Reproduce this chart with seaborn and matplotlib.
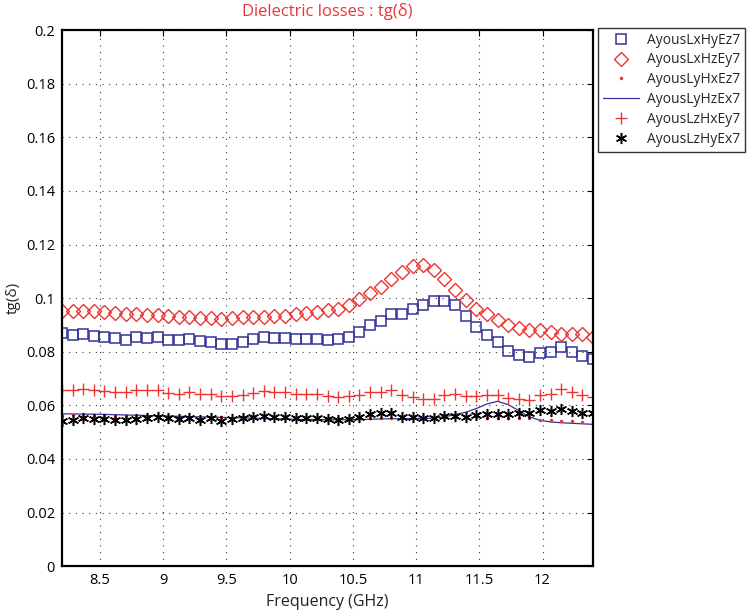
import numpy as np
import pandas as pd
import matplotlib
matplotlib.use("Agg")
import matplotlib.pyplot as plt
import seaborn as sns

# ---------------- data ----------------
freq = [8.200, 8.284, 8.368, 8.452, 8.536, 8.620, 8.704, 8.788, 8.872, 8.956,
        9.040, 9.124, 9.208, 9.292, 9.376, 9.460, 9.544, 9.628, 9.712, 9.796,
        9.880, 9.964, 10.048, 10.132, 10.216, 10.300, 10.384, 10.468, 10.552, 10.636,
        10.720, 10.804, 10.888, 10.972, 11.056, 11.140, 11.224, 11.308, 11.392, 11.476,
        11.560, 11.644, 11.728, 11.812, 11.896, 11.980, 12.064, 12.148, 12.232, 12.316,
        12.400]

lxhyez7 = [0.0871, 0.0861, 0.0866, 0.0860, 0.0855, 0.0850, 0.0845, 0.0855, 0.0852, 0.0855,
           0.0843, 0.0845, 0.0846, 0.0841, 0.0838, 0.0828, 0.0830, 0.0836, 0.0848, 0.0856,
           0.0853, 0.0852, 0.0846, 0.0846, 0.0847, 0.0845, 0.0846, 0.0856, 0.0873, 0.0898,
           0.0915, 0.0940, 0.0940, 0.0958, 0.0973, 0.0989, 0.0991, 0.0974, 0.0933, 0.0891,
           0.0863, 0.0835, 0.0804, 0.0789, 0.0779, 0.0794, 0.0799, 0.0816, 0.0799, 0.0785,
           0.0774]

lxhzey7 = [0.0951, 0.0951, 0.0952, 0.0951, 0.0947, 0.0943, 0.0940, 0.0939, 0.0938, 0.0937,
           0.0933, 0.0930, 0.0930, 0.0927, 0.0927, 0.0924, 0.0925, 0.0928, 0.0930, 0.0930,
           0.0932, 0.0935, 0.0939, 0.0943, 0.0950, 0.0954, 0.0961, 0.0976, 0.0995, 0.1020,
           0.1042, 0.1072, 0.1097, 0.1121, 0.1123, 0.1104, 0.1071, 0.1032, 0.0993, 0.0961,
           0.0940, 0.0918, 0.0899, 0.0887, 0.0881, 0.0881, 0.0872, 0.0868, 0.0866, 0.0866,
           0.0856]

lyhxez7 = [0.0565, 0.0563, 0.0562, 0.0560, 0.0559, 0.0558, 0.0557, 0.0557, 0.0556, 0.0556,
           0.0555, 0.0555, 0.0554, 0.0555, 0.0554, 0.0555, 0.0554, 0.0555, 0.0555, 0.0554,
           0.0555, 0.0553, 0.0553, 0.0553, 0.0553, 0.0552, 0.0552, 0.0553, 0.0553, 0.0553,
           0.0553, 0.0553, 0.0553, 0.0553, 0.0552, 0.0553, 0.0554, 0.0555, 0.0555, 0.0555,
           0.0554, 0.0554, 0.0553, 0.0553, 0.0551, 0.0545, 0.0545, 0.0542, 0.0542, 0.0539,
           0.0536]

lyhzex7 = [0.0568, 0.0568, 0.0567, 0.0567, 0.0566, 0.0565, 0.0564, 0.0563, 0.0562, 0.0561,
           0.0560, 0.0559, 0.0558, 0.0557, 0.0556, 0.0555, 0.0554, 0.0553, 0.0552, 0.0551,
           0.0550, 0.0549, 0.0548, 0.0547, 0.0547, 0.0546, 0.0546, 0.0546, 0.0547, 0.0548,
           0.0549, 0.0550, 0.0550, 0.0551, 0.0551, 0.0552, 0.0557, 0.0565, 0.0574, 0.0588,
           0.0605, 0.0615, 0.0603, 0.0580, 0.0557, 0.0544, 0.0538, 0.0535, 0.0533, 0.0531,
           0.0529]

lzhxey7 = [0.0657, 0.0658, 0.0662, 0.0658, 0.0654, 0.0650, 0.0648, 0.0656, 0.0656, 0.0657,
           0.0647, 0.0644, 0.0648, 0.0644, 0.0643, 0.0636, 0.0634, 0.0638, 0.0647, 0.0654,
           0.0650, 0.0648, 0.0641, 0.0642, 0.0641, 0.0636, 0.0632, 0.0636, 0.0638, 0.0648,
           0.0648, 0.0657, 0.0638, 0.0632, 0.0622, 0.0622, 0.0638, 0.0641, 0.0634, 0.0634,
           0.0638, 0.0638, 0.0626, 0.0622, 0.0619, 0.0638, 0.0642, 0.0660, 0.0648, 0.0638,
           0.0632]

lzhyex7 = [0.0542, 0.0545, 0.0551, 0.0549, 0.0549, 0.0545, 0.0545, 0.0549, 0.0551, 0.0555,
           0.0551, 0.0549, 0.0551, 0.0545, 0.0551, 0.0542, 0.0549, 0.0551, 0.0555, 0.0561,
           0.0557, 0.0557, 0.0553, 0.0551, 0.0551, 0.0549, 0.0545, 0.0549, 0.0557, 0.0567,
           0.0570, 0.0570, 0.0557, 0.0555, 0.0551, 0.0553, 0.0561, 0.0561, 0.0557, 0.0563,
           0.0567, 0.0567, 0.0567, 0.0570, 0.0572, 0.0582, 0.0578, 0.0588, 0.0578, 0.0573,
           0.0570]

series_names = ["AyousLxHyEz7", "AyousLxHzEy7", "AyousLyHxEz7",
                "AyousLyHzEx7", "AyousLzHxEy7", "AyousLzHyEx7"]
x_ticks = [8.5, 9, 9.5, 10, 10.5, 11, 11.5, 12]
y_ticks = [0, 0.02, 0.04, 0.06, 0.08, 0.1, 0.12, 0.14, 0.16, 0.18, 0.2]

# ---------------- style ----------------
sns.set_style("white")
plt.rcParams['font.family'] = ['Open Sans', 'DejaVu Sans']

fig = plt.figure(figsize=(7.47, 6.16), dpi=100)
ax = fig.add_axes([0.083, 0.081, 0.711, 0.870])

blue = "#33339a"
red = "#ee3333"

sns.lineplot(x=freq, y=lxhyez7, ax=ax, linestyle='', marker='s', markersize=6.8,
             markerfacecolor='none', markeredgecolor=blue, markeredgewidth=1.1,
             color=blue, label=series_names[0])
sns.lineplot(x=freq, y=lxhzey7, ax=ax, linestyle='', marker='D', markersize=7.2,
             markerfacecolor='none', markeredgecolor=red, markeredgewidth=1.0,
             color=red, label=series_names[1])
sns.lineplot(x=freq, y=lyhzex7, ax=ax, linestyle='-', marker=None, linewidth=0.9,
             color=blue, label=series_names[3])
sns.lineplot(x=freq, y=lyhxez7, ax=ax, linestyle='', marker='.', markersize=5,
             markeredgewidth=0, markerfacecolor=red, markeredgecolor=red,
             color=red, label=series_names[2])
sns.lineplot(x=freq, y=lzhxey7, ax=ax, linestyle='', marker='+', markersize=9,
             markeredgewidth=1.0, markeredgecolor=red, color=red,
             label=series_names[4])
sns.lineplot(x=freq, y=lzhyex7, ax=ax, linestyle='', marker=(6, 2, 0), markersize=8,
             markeredgewidth=1.1, markeredgecolor='black', color='black',
             label=series_names[5])

ax.set_xlim(8.2, 12.4)
ax.set_ylim(0, 0.2)
ax.set_xticks(x_ticks)
ax.set_xticklabels([f"{v:g}" for v in x_ticks])
ax.set_yticks(y_ticks)
ax.set_yticklabels([f"{v:g}" for v in y_ticks])

ax.grid(True, color='black', linestyle=(0, (1, 5)), linewidth=0.8, alpha=0.8)
ax.tick_params(direction='in', length=4, width=0.8, top=True, right=True,
               labelsize=10.5, colors='black', pad=5)
for sp in ax.spines.values():
    sp.set_visible(True)
    sp.set_color('black')
    sp.set_linewidth(1.6)

ax.set_xlabel("Frequency (GHz)", fontsize=11.5, color='#222222', labelpad=4)
ax.set_ylabel("tg(δ)", fontsize=11, color='#222222', labelpad=4)
ax.set_title("Dielectric losses : tg(δ)", fontsize=12, color=red, pad=10)

handles, labels = ax.get_legend_handles_labels()
order = [labels.index(n) for n in series_names]
leg = ax.legend([handles[i] for i in order], [labels[i] for i in order],
                loc='upper left', bbox_to_anchor=(0.8005, 0.955),
                bbox_transform=fig.transFigure, frameon=True, fancybox=False,
                edgecolor='black', fontsize=10, handlelength=2.6,
                handletextpad=0.6, labelspacing=0.35, borderpad=0.35,
                borderaxespad=0.0)
leg.get_frame().set_linewidth(1.0)

fig.savefig("out.png", dpi=100)
